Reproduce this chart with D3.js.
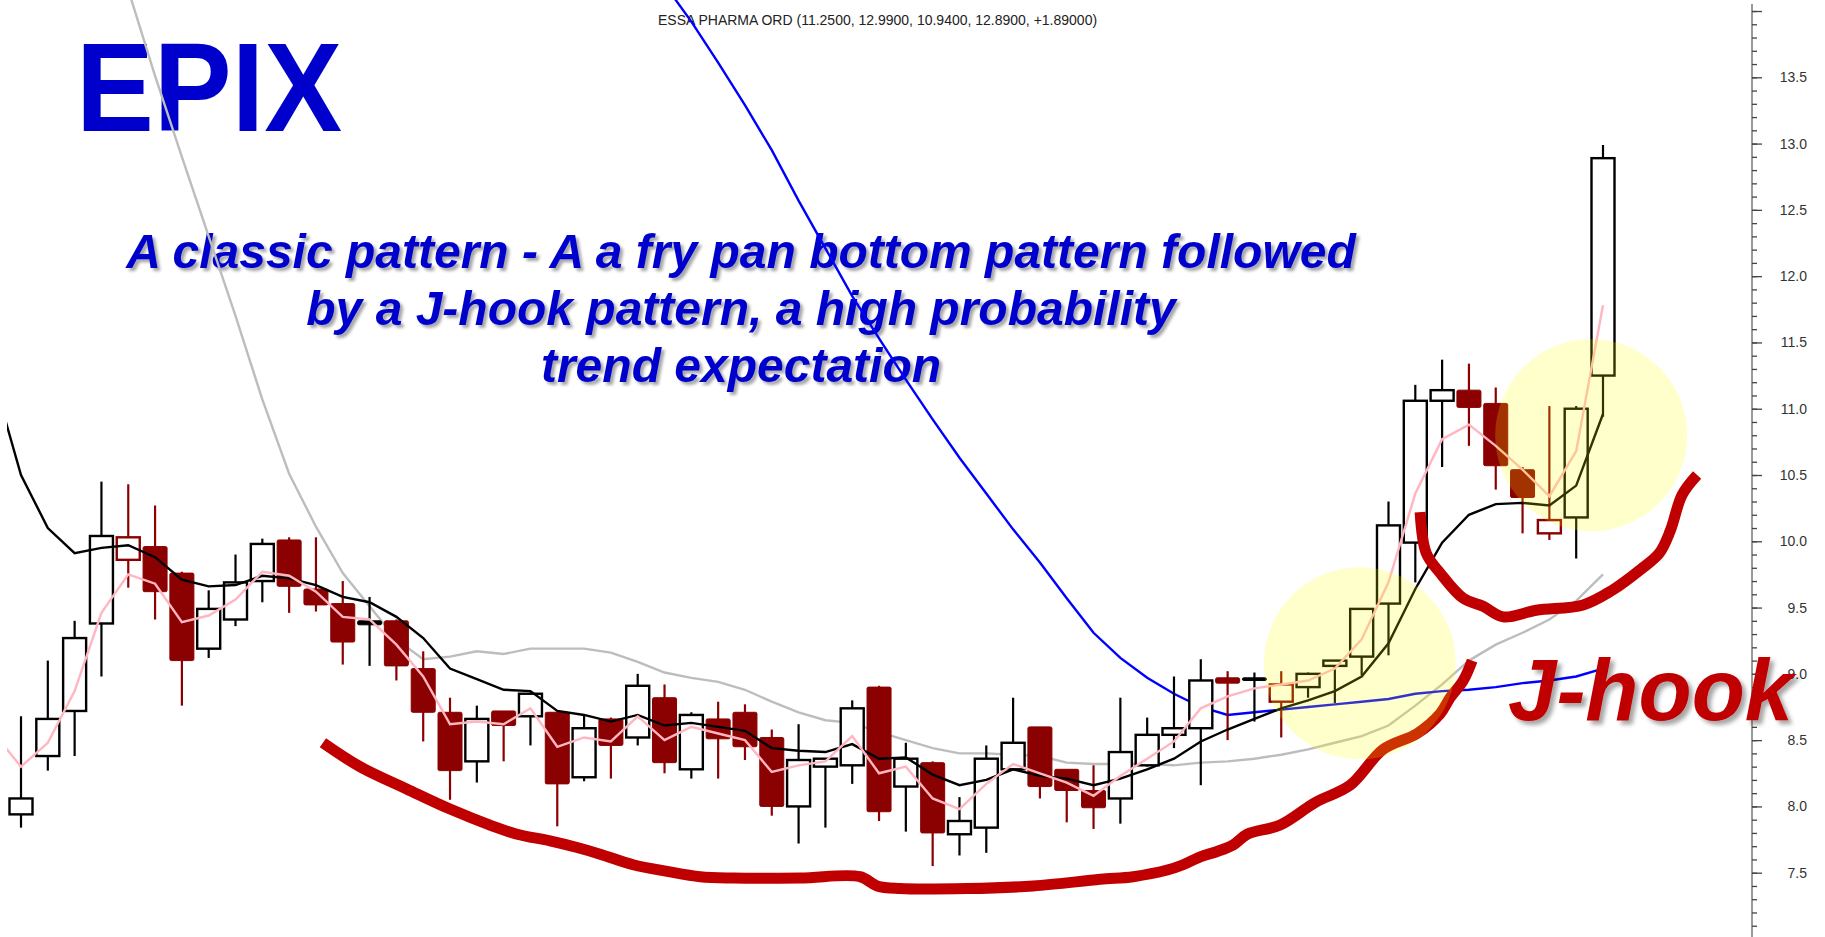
<!DOCTYPE html>
<meta charset="utf-8">
<html>
<head>
<style>
    body { margin: 0; background: #fff; }
    svg { display: block; font-family: 'Liberation Sans', Arial, sans-serif; }
    .axis line { stroke: #444; stroke-width: 1.3; }
    .axis text { font-size: 14px; fill: #333; }
</style>
</head>
<body>
<svg id="chart"></svg>
<script src="https://cdn.jsdelivr.net/npm/d3@7/dist/d3.min.js"></script>
<script>

    // ---- data (candle index 0..59) ----
    var opens  = [7.94, 8.38, 8.72, 9.38, 9.86, 9.96, 9.76, 9.19, 9.41, 9.70,
                  10.01, 9.64, 9.53, 9.40, 9.40, 9.04, 8.71, 8.34, 8.72, 8.68,
                  8.71, 8.22, 8.66, 8.52, 8.82, 8.28, 8.66, 8.71, 8.52, 8.00,
                  8.30, 8.31, 8.90, 8.15, 8.33, 7.79, 7.84, 8.28, 8.60, 8.28,
                  8.12, 8.06, 8.31, 8.54, 8.59, 8.97, 8.97, 8.79, 8.90, 9.06,
                  9.13, 9.53, 9.99, 11.06, 11.14, 11.04, 10.54, 10.06, 10.18, 11.25];
    var highs  = [8.68, 9.10, 9.40, 10.45, 10.43, 10.27, 9.77, 9.63, 9.90, 10.02,
                  10.03, 10.03, 9.70, 9.58, 9.41, 9.17, 8.82, 8.76, 8.72, 8.86,
                  8.71, 8.69, 8.67, 9.00, 8.92, 8.71, 8.79, 8.77, 8.58, 8.62,
                  8.36, 8.80, 8.91, 8.48, 8.34, 8.07, 8.46, 8.82, 8.60, 8.28,
                  8.31, 8.82, 8.67, 8.98, 9.11, 9.02, 9.01, 9.02, 9.01, 9.10,
                  9.49, 10.30, 11.18, 11.37, 11.34, 11.16, 10.56, 11.02, 11.02, 12.99];
    var lows   = [7.84, 8.27, 8.38, 8.98, 9.65, 9.41, 8.76, 9.12, 9.36, 9.54,
                  9.46, 9.47, 9.07, 9.06, 8.95, 8.49, 8.05, 8.18, 8.34, 8.46,
                  7.85, 8.19, 8.21, 8.46, 8.25, 8.21, 8.21, 8.35, 7.93, 7.72,
                  7.84, 8.17, 7.89, 7.81, 7.55, 7.63, 7.65, 8.28, 8.06, 7.88,
                  7.83, 7.87, 8.30, 8.44, 8.16, 8.50, 8.64, 8.52, 8.82, 8.78,
                  8.99, 9.14, 9.69, 10.56, 10.72, 10.39, 10.06, 10.01, 9.87, 10.94];
    var closes = [8.06, 8.66, 9.27, 10.04, 10.03, 9.62, 9.10, 9.49, 9.69, 9.98,
                  9.66, 9.52, 9.24, 9.37, 9.06, 8.71, 8.27, 8.66, 8.61, 8.85,
                  8.17, 8.59, 8.46, 8.91, 8.33, 8.69, 8.51, 8.45, 8.00, 8.35,
                  8.36, 8.74, 7.96, 8.36, 7.80, 7.89, 8.36, 8.48, 8.15, 8.12,
                  7.99, 8.41, 8.54, 8.59, 8.95, 8.93, 8.95, 8.92, 9.00, 9.10,
                  9.49, 10.12, 11.06, 11.14, 11.01, 10.57, 10.33, 10.16, 11.00, 12.89];

    // moving averages, index -1..59 (first value is the bar just off the left edge)
    var maFirstIndex = -1;
    var maBlack = [11.21, 10.50, 10.10, 9.91, 9.95, 9.97, 9.88, 9.71, 9.66, 9.67, 9.74,
                   9.72, 9.67, 9.58, 9.54, 9.43, 9.27, 9.04, 8.96, 8.88, 8.87,
                   8.72, 8.69, 8.64, 8.69, 8.61, 8.63, 8.60, 8.57, 8.44, 8.42,
                   8.41, 8.47, 8.36, 8.37, 8.24, 8.16, 8.20, 8.28, 8.23, 8.21,
                   8.16, 8.21, 8.28, 8.36, 8.49, 8.58, 8.66, 8.74, 8.80, 8.87,
                   8.98, 9.23, 9.64, 9.99, 10.20, 10.28, 10.29, 10.27, 10.42, 10.96];
    var maPink  = [8.55, 8.30, 8.48, 8.87, 9.46, 9.75, 9.68, 9.39, 9.44, 9.56, 9.77,
                   9.74, 9.62, 9.43, 9.41, 9.22, 8.98, 8.62, 8.64, 8.62, 8.74,
                   8.45, 8.52, 8.49, 8.68, 8.50, 8.60, 8.55, 8.50, 8.26, 8.31,
                   8.34, 8.53, 8.25, 8.30, 8.06, 7.98, 8.17, 8.32, 8.25, 8.18,
                   8.08, 8.23, 8.36, 8.49, 8.74, 8.83, 8.89, 8.92, 8.95, 9.04,
                   9.26, 9.69, 10.36, 10.77, 10.88, 10.72, 10.54, 10.34, 10.68, 11.78];
    var maGray  = [null, null, null, null, null, 14.16, 13.51, 12.90, 12.30, 11.70, 11.07,
                   10.51, 10.11, 9.76, 9.51, 9.26, 9.11, 9.13, 9.17, 9.15, 9.19,
                   9.19, 9.19, 9.16, 9.09, 9.01, 8.97, 8.94, 8.88, 8.79, 8.71,
                   8.65, 8.63, 8.56, 8.50, 8.44, 8.40, 8.40, 8.39, 8.38, 8.33,
                   8.32, 8.32, 8.32, 8.31, 8.33, 8.34, 8.36, 8.39, 8.43, 8.48,
                   8.53, 8.61, 8.76, 8.92, 9.10, 9.22, 9.31, 9.41, 9.55, 9.75];
    var maBlue  = [null, null, null, null, null, null, null, null, null, null, null,
                   null, null, null, null, null, null, null, null, null, null,
                   null, null, null, null, 14.20, 13.92, 13.61, 13.29, 12.95, 12.57,
                   12.21, 11.85, 11.53, 11.22, 10.92, 10.63, 10.36, 10.09, 9.84, 9.57,
                   9.31, 9.12, 8.97, 8.85, 8.75, 8.69, 8.71, 8.73, 8.75, 8.77,
                   8.79, 8.81, 8.85, 8.87, 8.88, 8.90, 8.93, 8.95, 8.98, 9.04];

    // hand drawn annotation strokes, as [bar index, price]
    var panCurve = [[11.26, 8.48], [12.64, 8.30], [14.40, 8.13], [16.00, 7.98], [17.61, 7.85],
                    [18.50, 7.79], [19.73, 7.74], [20.74, 7.69], [21.60, 7.64], [22.83, 7.56],
                    [24.10, 7.51], [25.33, 7.47], [26.56, 7.46], [29.06, 7.46], [31.29, 7.47],
                    [31.93, 7.40], [32.79, 7.38], [35.28, 7.38], [37.75, 7.40], [40.25, 7.45],
                    [41.48, 7.47], [42.75, 7.52], [43.34, 7.56], [43.98, 7.62], [44.61, 7.66],
                    [45.21, 7.71], [45.73, 7.79], [46.96, 7.86], [48.27, 8.03], [49.57, 8.16],
                    [50.80, 8.43], [52.07, 8.55], [52.93, 8.70], [53.30, 8.82], [53.79, 8.95],
                    [54.12, 9.10]];
    var hookCurve = [[52.18, 10.22], [52.41, 9.91], [52.93, 9.76], [53.79, 9.57], [54.53, 9.51],
                     [55.28, 9.43], [56.51, 9.48], [58.26, 9.52], [59.34, 9.63], [60.42, 9.79],
                     [61.10, 9.91], [61.51, 10.08], [61.95, 10.35], [62.51, 10.50]];
    var highlights = [[49.93, 9.08], [58.56, 10.80]];

    var majorTicks = [7.5, 8.0, 8.5, 9.0, 9.5, 10.0, 10.5, 11.0, 11.5, 12.0, 12.5, 13.0, 13.5, 14.0];
    var tickLabels = ["7.5", "8.0", "8.5", "9.0", "9.5", "10.0", "10.5", "11.0", "11.5", "12.0", "12.5", "13.0", "13.5", ""];

    var titleText = "ESSA PHARMA ORD (11.2500, 12.9900, 10.9400, 12.8900, +1.89000)";
    var noteLines = ["A classic pattern - A a fry pan bottom pattern followed",
                     "by a J-hook pattern, a high probability",
                     "trend expectation"];

    // ---- layout ----
    var W = 1825, H = 937, axisX = 1752;
    var svg = d3.select("#chart").attr("width", W).attr("height", H);

    var x = d3.scaleLinear().domain([0, 59]).range([21, 1603]);
    var y = d3.scaleLinear().domain([7.5, 13.5]).range([872.7, 77.3]);

    var defs = svg.append("defs");
    defs.append("clipPath").attr("id", "plot")
        .append("rect").attr("x", 7).attr("y", 0).attr("width", axisX - 7).attr("height", H);

    var sh = defs.append("filter").attr("id", "shadow")
        .attr("x", "-5%").attr("y", "-20%").attr("width", "115%").attr("height", "150%");
    sh.append("feDropShadow").attr("dx", 3).attr("dy", 3).attr("stdDeviation", 1.6)
        .attr("flood-color", "#000").attr("flood-opacity", 0.35);
    var sh2 = defs.append("filter").attr("id", "shadow2")
        .attr("x", "-5%").attr("y", "-20%").attr("width", "115%").attr("height", "150%");
    sh2.append("feDropShadow").attr("dx", 4).attr("dy", 4).attr("stdDeviation", 2)
        .attr("flood-color", "#000").attr("flood-opacity", 0.35);

    // texts behind the chart
    svg.append("text")
        .attr("x", 658).attr("y", 25)
        .style("font-size", "14px").style("fill", "#222")
        .text(titleText);

    svg.append("text")
        .attr("x", 76).attr("y", 131)
        .attr("textLength", 266).attr("lengthAdjust", "spacingAndGlyphs")
        .style("font-size", "126px").style("font-weight", "bold").style("fill", "#0000cc")
        .text("EPIX");

    svg.append("g").attr("filter", "url(#shadow)")
        .selectAll("text").data(noteLines).enter().append("text")
        .attr("x", 741)
        .attr("y", function (d, i) { return 268 + i * 57; })
        .attr("text-anchor", "middle")
        .style("font-size", "48px").style("font-weight", "bold").style("font-style", "italic")
        .style("fill", "#0000cc")
        .text(function (d) { return d; });

    var plot = svg.append("g").attr("clip-path", "url(#plot)");

    function maLine(values) {
        return d3.line()
            .defined(function (d) { return d != null; })
            .x(function (d, i) { return x(i + maFirstIndex); })
            .y(function (d) { return y(d); })(values);
    }

    plot.append("path").attr("d", maLine(maGray))
        .attr("fill", "none").attr("stroke", "#bdbdbd").attr("stroke-width", 2.4);
    plot.append("path").attr("d", maLine(maBlue))
        .attr("fill", "none").attr("stroke", "#0000ff").attr("stroke-width", 2.4);

    // candles
    var bars = d3.range(opens.length).map(function (i) {
        return {
            i: i, o: opens[i], h: highs[i], l: lows[i], c: closes[i],
            hollow: closes[i] > opens[i],
            col: (i === 0 || closes[i] >= closes[i - 1]) ? "#000000" : "#8b0000"
        };
    });

    var cg = plot.selectAll("g.candle").data(bars).enter().append("g").attr("class", "candle");
    cg.append("line")
        .attr("x1", function (d) { return x(d.i); })
        .attr("x2", function (d) { return x(d.i); })
        .attr("y1", function (d) { return y(d.h); })
        .attr("y2", function (d) { return y(d.l); })
        .attr("stroke", function (d) { return d.col; })
        .attr("stroke-width", 2.2);
    cg.append("rect")
        .attr("x", function (d) { return x(d.i) - (d.hollow ? 11.5 : 12); })
        .attr("width", function (d) { return d.hollow ? 23 : 24; })
        .attr("y", function (d) { return y(Math.max(d.o, d.c)); })
        .attr("height", function (d) { return Math.max(Math.abs(y(d.o) - y(d.c)), 2.5); })
        .attr("rx", function (d) { return d.hollow ? 0 : 1.5; })
        .attr("fill", function (d) { return d.hollow ? "#ffffff" : d.col; })
        .attr("stroke", function (d) { return d.col; })
        .attr("stroke-width", function (d) { return d.hollow ? 2.4 : 1; });

    plot.append("path").attr("d", maLine(maBlack))
        .attr("fill", "none").attr("stroke", "#000").attr("stroke-width", 2.4);
    plot.append("path").attr("d", maLine(maPink))
        .attr("fill", "none").attr("stroke", "#ffb6c1").attr("stroke-width", 2.4);

    // red marker strokes
    var stroke = d3.line()
        .x(function (d) { return x(d[0]); })
        .y(function (d) { return y(d[1]); })
        .curve(d3.curveCatmullRom);
    [panCurve, hookCurve].forEach(function (pts) {
        svg.append("path").attr("d", stroke(pts))
            .attr("fill", "none").attr("stroke", "#c00000").attr("stroke-width", 11)
            .attr("stroke-linecap", "butt").attr("stroke-linejoin", "round");
    });

    // yellow highlight circles
    svg.selectAll("circle.hl").data(highlights).enter().append("circle")
        .attr("class", "hl")
        .attr("cx", function (d) { return x(d[0]); })
        .attr("cy", function (d) { return y(d[1]); })
        .attr("r", 96)
        .attr("fill", "#ffff00").attr("fill-opacity", 0.2);

    // right price axis
    svg.append("line")
        .attr("x1", axisX).attr("x2", axisX).attr("y1", 4).attr("y2", H)
        .attr("stroke", "#777").attr("stroke-width", 1.5);

    var minorTicks = d3.range(71, 141).map(function (k) { return k / 10; });
    svg.append("g").attr("class", "axis")
        .attr("transform", "translate(" + axisX + ",0)")
        .call(d3.axisRight(y).tickValues(minorTicks).tickSize(5).tickSizeOuter(0).tickFormat(""))
        .call(function (g) { g.select(".domain").remove(); });

    svg.append("g").attr("class", "axis")
        .attr("transform", "translate(" + axisX + ",0)")
        .call(d3.axisRight(y).tickValues(majorTicks).tickSize(10).tickSizeOuter(0)
            .tickFormat(function (d, i) { return tickLabels[i]; }))
        .call(function (g) {
            g.select(".domain").remove();
            g.selectAll("text").attr("x", 55).attr("text-anchor", "end")
                .style("font-family", "'Liberation Sans', Arial, sans-serif");
        });

    // J-hook label on top (it runs over the 9.0 label, as in the original)
    svg.append("text")
        .attr("x", 1508).attr("y", 720)
        .attr("filter", "url(#shadow2)")
        .style("font-size", "87px").style("font-weight", "bold").style("font-style", "italic")
        .style("fill", "#c00000")
        .text("J-hook");

</script>
</body>
</html>
